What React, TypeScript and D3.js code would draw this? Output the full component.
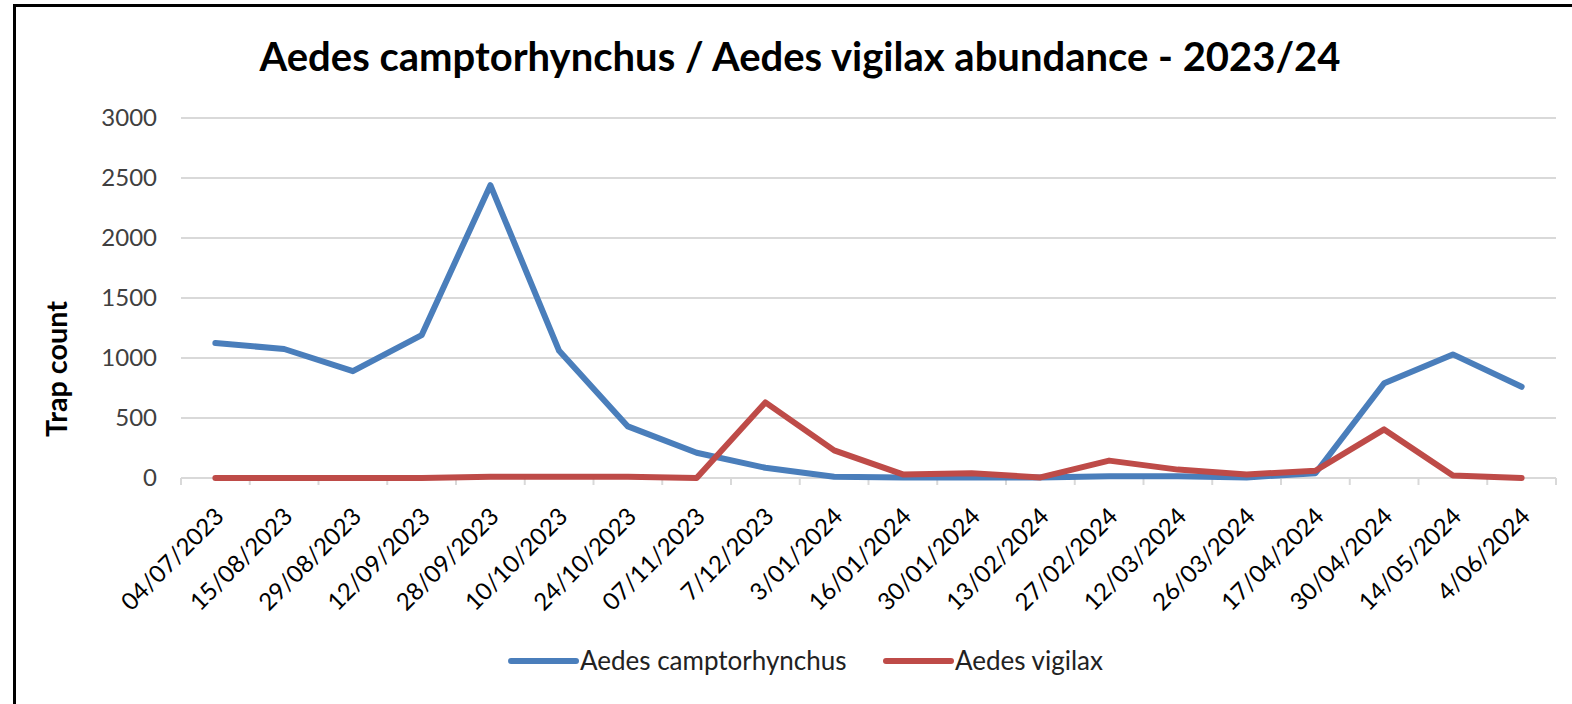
import React, { useEffect, useRef } from 'react';
import * as d3 from 'd3';

const dates = [
  '04/07/2023', '15/08/2023', '29/08/2023', '12/09/2023', '28/09/2023',
  '10/10/2023', '24/10/2023', '07/11/2023', '7/12/2023', '3/01/2024',
  '16/01/2024', '30/01/2024', '13/02/2024', '27/02/2024', '12/03/2024',
  '26/03/2024', '17/04/2024', '30/04/2024', '14/05/2024', '4/06/2024',
];

const camptorhynchus = [
  1125, 1075, 890, 1190, 2440, 1060, 430, 210, 85, 10,
  5, 5, 5, 15, 15, 5, 40, 790, 1030, 760,
];

const vigilax = [
  0, 0, 0, 0, 10, 10, 10, 0, 630, 230,
  30, 40, 5, 145, 70, 30, 60, 405, 20, 0,
];

const yTicks = [0, 500, 1000, 1500, 2000, 2500, 3000];

const series = [
  { name: 'Aedes camptorhynchus', values: camptorhynchus, color: '#4A7EBB' },
  { name: 'Aedes vigilax', values: vigilax, color: '#BE4B48' },
];

const W = 1572;
const H = 704;
const FONT = 'Lato, "Open Sans", sans-serif';

const App: React.FC = () => {
  const ref = useRef<SVGSVGElement>(null);

  useEffect(() => {
    if (!ref.current) return;
    const svg = d3.select(ref.current);
    svg.selectAll('*').remove();

    const left = 181;
    const right = 1556;
    const top = 118;
    const bottom = 478;

    // outer frame
    svg.append('rect')
      .attr('x', 14.5).attr('y', 5.5)
      .attr('width', W + 20).attr('height', H + 20)
      .attr('fill', 'white').attr('stroke', '#000').attr('stroke-width', 3);

    const x = d3.scaleBand().domain(dates).range([left, right]);
    const y = d3.scaleLinear().domain([0, 3000]).range([bottom, top]);

    // gridlines
    svg.append('g')
      .selectAll('line')
      .data(yTicks.filter(t => t > 0))
      .enter()
      .append('line')
      .attr('x1', left).attr('x2', right)
      .attr('y1', d => y(d)).attr('y2', d => y(d))
      .attr('stroke', '#D9D9D9').attr('stroke-width', 2);

    // y labels
    svg.append('g')
      .selectAll('text')
      .data(yTicks)
      .enter()
      .append('text')
      .attr('x', 157)
      .attr('y', d => y(d))
      .attr('dy', '0.35em')
      .attr('text-anchor', 'end')
      .style('font-family', FONT)
      .style('font-size', '24px')
      .attr('fill', '#404040')
      .text(d => String(d));

    // x axis
    const xAxis = svg.append('g').attr('transform', `translate(0,${bottom})`);
    xAxis.append('line')
      .attr('x1', left).attr('x2', right)
      .attr('stroke', '#D9D9D9').attr('stroke-width', 2);
    const bounds = dates.map(d => x(d) as number).concat([right]);
    xAxis.selectAll('.tick')
      .data(bounds)
      .enter()
      .append('line')
      .attr('x1', d => d).attr('x2', d => d)
      .attr('y1', 0).attr('y2', 7)
      .attr('stroke', '#D9D9D9').attr('stroke-width', 2);

    xAxis.selectAll('text')
      .data(dates)
      .enter()
      .append('text')
      .attr('transform', d => `translate(${(x(d) as number) + x.bandwidth() / 2 + 4},${34}) rotate(-45)`)
      .attr('text-anchor', 'end')
      .attr('dy', '0.35em')
      .style('font-family', FONT)
      .style('font-size', '24px')
      .attr('fill', '#000')
      .text(d => d);

    // lines
    const line = d3.line<number>()
      .x((_, i) => (x(dates[i]) as number) + x.bandwidth() / 2)
      .y(d => y(d));

    series.forEach(s => {
      svg.append('path')
        .datum(s.values)
        .attr('d', line)
        .attr('fill', 'none')
        .attr('stroke', s.color)
        .attr('stroke-width', 6)
        .attr('stroke-linejoin', 'round')
        .attr('stroke-linecap', 'round');
    });

    // title
    svg.append('text')
      .attr('x', 800).attr('y', 71)
      .attr('text-anchor', 'middle')
      .style('font-family', FONT)
      .style('font-size', '40px')
      .style('font-weight', 'bold')
      .text('Aedes camptorhynchus / Aedes vigilax abundance - 2023/24');

    // y axis title
    svg.append('text')
      .attr('transform', `translate(67,${(300 + 438) / 2}) rotate(-90)`)
      .attr('text-anchor', 'middle')
      .style('font-family', FONT)
      .style('font-size', '29px')
      .style('font-weight', 'bold')
      .attr('textLength', 136)
      .attr('lengthAdjust', 'spacingAndGlyphs')
      .text('Trap count');

    // legend
    const legendX = [511, 886];
    series.forEach((s, i) => {
      const g = svg.append('g').attr('transform', `translate(${legendX[i]},661)`);
      g.append('line')
        .attr('x1', 0).attr('x2', 65)
        .attr('stroke', s.color).attr('stroke-width', 6)
        .attr('stroke-linecap', 'round');
      g.append('text')
        .attr('x', 69).attr('dy', '0.35em')
        .style('font-family', FONT)
        .style('font-size', '26px')
        .attr('fill', '#222')
        .text(s.name);
    });
  }, []);

  return (
    <svg
      ref={ref}
      width={W}
      height={H}
      style={{ position: 'absolute', left: 0, top: 0, background: 'white' }}
    />
  );
};

export default App;
